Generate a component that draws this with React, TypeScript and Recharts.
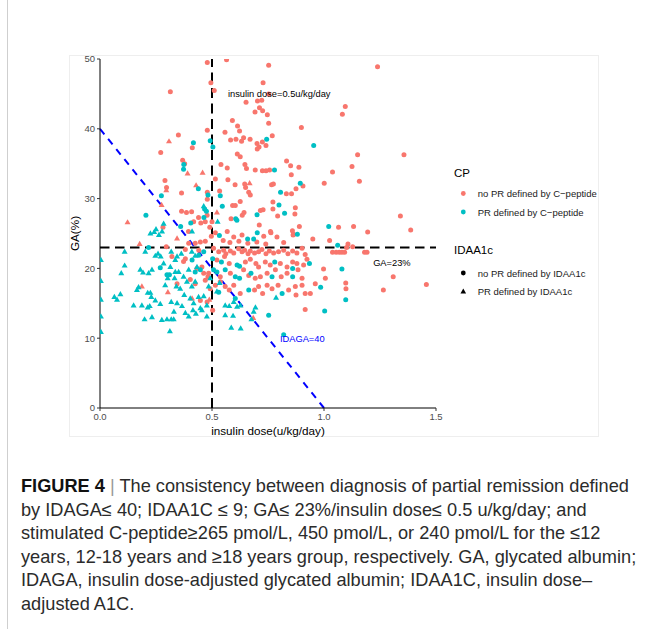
import React from 'react';
import { ScatterChart, Scatter, XAxis, YAxis, ReferenceLine, ReferenceDot } from 'recharts';

type P = [number, number];

const xTicks = [0, 0.5, 1, 1.5];
const yTicks = [0, 10, 20, 30, 40, 50];

const redDots: P[] = [
  [0.479,49.5],[0.565,49.9],[0.753,49.1],[1.239,48.9],
  [0.495,46.6],[0.728,46.6],[0.510,45.5],[0.314,45.3],[0.753,45.0],
  [0.703,44.0],[0.722,44.1],[0.652,43.8],[0.712,43.0],[0.726,42.6],[0.692,42.4],[0.747,42.0],[1.095,43.2],[1.082,42.1],
  [0.591,41.2],[0.753,40.8],[0.899,40.2],[0.614,40.4],
  [0.479,39.8],[0.558,39.5],[0.623,39.7],[0.350,39.1],[0.769,39.0],[0.641,38.7],[0.583,38.4],[0.607,38.5],[0.670,38.5],[0.632,38.2],[0.701,37.9],[0.725,38.1],[0.741,37.6],[0.710,37.4],[0.702,37.1],[0.412,37.3],[0.271,36.6],
  [0.613,36.4],[0.626,36.0],[1.150,36.3],[1.357,36.3],[0.369,35.5],[0.378,35.0],[0.833,35.4],[0.851,34.7],[0.888,34.5],[0.854,33.4],[1.125,34.6],[1.038,33.8],
  [0.540,34.9],[0.568,34.4],[0.647,34.9],[0.654,34.3],[0.693,34.1],[0.725,34.0],[0.741,34.0],[0.757,34.1],
  [0.571,32.7],[0.515,32.8],[0.603,32.0],[0.646,32.1],[0.650,31.6],[0.664,30.9],[0.671,30.5],[0.290,32.6],[0.297,31.6],[1.001,32.2],[1.158,32.5],[0.766,32.0],[0.774,32.1],[0.906,31.8],[0.875,31.4],
  [0.534,31.1],[0.479,30.9],[0.364,30.8],[0.832,30.7],[0.855,30.7],[0.479,29.9],[0.626,29.6],[0.772,29.5],[0.592,29.0],[0.604,29.0],
  [0.364,28.2],[0.409,28.1],[0.386,28.0],[0.478,27.6],[0.772,28.5],[0.728,28.4],[0.716,28.3],[0.872,28.7],[0.870,27.8],[0.643,28.0],[0.635,27.6],[0.793,27.5],[1.341,27.5],[0.440,27.3],[0.585,27.1],
  [0.470,26.7],[0.450,26.5],[0.500,26.7],[0.418,26.7],[0.281,25.9],[0.490,25.9],[0.711,26.2],[0.890,26.0],[1.065,25.9],[1.132,26.0],[1.387,25.5],[1.195,25.2],[0.859,25.4],[0.862,24.8],[0.763,25.1],[0.395,25.3],
  [0.497,24.6],[0.515,25.1],[0.568,25.3],[0.597,24.5],[0.634,24.8],[0.731,24.6],[0.761,25.3],[0.790,24.5],[0.864,24.9],[0.550,24.0],[0.580,23.7],[0.620,23.9],[0.660,23.6],[0.700,23.8],[0.740,23.5],[0.820,23.7],[0.950,24.2],[1.025,24.0],
  [0.381,22.7],[0.396,23.6],[0.425,23.6],[0.448,23.8],[0.470,23.9],[0.441,22.6],[0.296,23.1],[0.321,21.7],[0.373,21.0],[0.381,21.4],[0.433,20.0],[0.455,20.2],[0.463,19.3],[0.470,18.3],[0.482,18.8],[0.403,18.4],[0.425,17.8],[0.344,17.8],[0.448,15.4],[0.478,15.2],[0.503,14.0],
  [0.507,22.9],[0.530,22.4],[0.552,22.6],[0.562,22.1],[0.582,22.5],[0.597,22.2],[0.619,22.8],[0.634,22.4],[0.646,22.6],[0.661,22.1],[0.671,22.5],[0.690,22.2],[0.708,22.4],[0.723,22.7],[0.741,22.1],[0.756,22.5],[0.775,22.2],[0.797,22.4],[0.820,22.6],[0.839,22.1],[0.860,22.5],[0.879,22.2],[0.902,22.9],[0.916,22.0],
  [1.038,22.3],[1.054,22.3],[1.068,22.3],[1.080,22.3],[1.092,22.3],[1.101,23.0],[1.107,23.5],[1.128,23.1],[1.181,22.3],[1.192,22.3],
  [0.522,21.2],[0.556,21.7],[0.577,20.7],[0.649,20.9],[0.671,21.3],[0.696,20.7],[0.708,20.2],[0.738,20.9],[0.760,20.5],[0.805,20.7],[0.835,20.2],[0.860,20.9],[0.879,20.7],[0.909,20.5],[0.924,21.3],
  [0.485,19.3],[0.537,18.8],[0.582,19.3],[0.641,19.8],[0.664,19.0],[0.693,18.6],[0.716,18.8],[0.746,19.3],[0.783,19.8],[0.809,18.8],[0.835,19.3],[0.884,19.8],[0.902,18.6],[0.998,19.9],[1.006,18.6],
  [0.492,17.1],[0.515,17.6],[0.537,18.1],[0.559,17.4],[0.577,16.9],[0.597,17.6],[0.626,16.4],[0.690,16.9],[0.708,17.4],[0.726,16.4],[0.746,17.6],[0.768,17.1],[0.795,17.6],[0.842,16.9],[0.872,17.4],[0.916,16.4],[0.939,16.4],[0.875,16.2],[0.902,17.6],[0.961,17.8],[1.097,17.9],[1.098,17.1],[1.309,18.8],[1.265,16.9],[1.457,17.7],
  [0.916,14.1],
];

const redTriangles: P[] = [
  [0.308,38.2],[0.391,33.6],[0.458,33.7],[0.296,31.2],[0.429,31.9],[0.275,29.1],[0.123,26.6],[0.522,28.0],[0.668,32.2],
  [0.177,23.5],[0.344,24.3],[0.187,17.4],[0.303,16.6],[0.411,15.7],[0.684,12.9],[0.488,15.5],
];

const cyanDots: P[] = [
  [0.492,38.3],[0.417,38.0],[0.504,37.4],[0.744,38.5],[0.954,37.6],[0.374,34.9],[0.373,34.2],[0.779,34.1],[0.439,31.4],[0.482,30.5],[0.274,30.4],[0.537,30.4],
  [0.894,32.2],[0.806,30.9],[0.799,29.1],[0.546,28.9],[0.467,28.5],[0.475,28.2],[0.205,27.6],[0.464,27.3],[0.824,27.9],[0.701,27.7],[0.606,27.1],[0.611,26.9],[0.405,26.5],[0.360,26.0],[1.021,26.0],
  [0.702,25.1],[0.881,24.9],[0.533,24.7],[0.659,24.2],[0.686,24.2],[1.061,23.3],[0.217,23.0],[0.269,20.1],[0.299,19.1],[0.310,19.1],[0.411,21.2],[0.441,21.9],[0.463,22.4],[0.448,19.8],[0.425,19.5],
  [0.503,21.4],[0.542,20.9],[0.612,20.5],[0.623,20.3],[0.780,20.9],[0.860,20.0],[0.935,20.7],[0.522,19.5],[0.559,19.8],[0.604,18.8],[0.623,18.6],[0.674,19.3],[0.768,18.8],[0.860,18.8],[0.507,19.8],
  [0.530,16.6],[0.664,16.9],[0.813,16.4],[0.604,15.7],[0.753,13.3],[1.080,19.9],[0.985,17.3],[1.097,15.5],[1.003,13.9],[0.820,10.5],
];

const cyanTriangles: P[] = [
  [0.004,21.2],[0.004,18.2],[0.004,15.5],[0.004,13.1],[0.004,10.9],
  [0.064,15.9],[0.076,15.5],[0.091,16.3],[0.095,19.3],[0.110,20.4],[0.110,22.4],
  [0.150,14.7],[0.165,16.9],[0.172,17.3],[0.180,19.8],[0.192,19.4],[0.187,14.7],[0.199,12.7],[0.202,22.4],
  [0.213,16.5],[0.225,16.5],[0.213,14.4],[0.222,14.6],[0.217,19.3],[0.232,19.8],[0.229,15.9],[0.232,13.0],[0.247,15.4],[0.247,21.8],[0.259,22.1],[0.271,21.7],
  [0.225,25.0],[0.242,25.2],[0.250,25.6],[0.263,24.8],[0.277,25.3],[0.284,26.4],
  [0.269,14.9],[0.276,12.6],[0.284,20.7],[0.291,17.6],[0.299,12.7],[0.302,18.6],[0.312,11.0],[0.314,20.2],[0.318,12.7],[0.318,22.4],[0.318,15.2],[0.329,12.7],[0.330,13.8],[0.333,18.6],[0.336,21.2],[0.336,19.5],[0.341,17.4],[0.344,21.7],[0.344,15.0],[0.351,19.5],[0.358,17.1],[0.363,22.1],[0.366,14.6],
  [0.373,18.8],[0.376,16.2],[0.381,13.6],[0.388,18.1],[0.396,13.1],[0.396,19.8],[0.403,15.7],[0.410,17.4],[0.410,22.4],[0.411,25.3],[0.415,14.0],[0.418,15.0],[0.425,18.1],[0.425,21.8],[0.428,13.5],[0.433,20.2],[0.440,15.9],[0.448,14.3],[0.455,14.0],[0.463,16.0],[0.463,28.9],[0.477,14.7],[0.477,13.1],[0.485,17.4],[0.492,18.6],[0.522,16.7],[0.534,17.9],[0.525,26.7],
  [0.559,14.7],[0.577,14.6],[0.597,15.2],[0.612,14.5],[0.627,14.7],[0.694,14.4],[0.686,13.8],[0.559,13.3],[0.594,13.2],[0.676,12.7],[0.586,11.5],[0.628,11.4],[0.786,15.8],
];

const captionLines = [
  'by IDAGA≤ 40; IDAA1C ≤ 9; GA≤ 23%/insulin dose≤ 0.5 u/kg/day; and',
  'stimulated C-peptide≥265 pmol/L, 450 pmol/L, or 240 pmol/L for the ≤12',
  'years, 12-18 years and ≥18 years group, respectively. GA, glycated albumin;',
  'IDAGA, insulin dose-adjusted glycated albumin; IDAA1C, insulin dose–',
  'adjusted A1C.',
];

const RED = '#F8766D';
const CYAN = '#00BFC4';
const FONT = '"Liberation Sans", Arial, sans-serif';

const toPts = (arr: P[]) => arr.map(([x, y]) => ({ x, y }));

const dotShape = (color: string) => (props: any) => (
  <circle cx={props.cx} cy={props.cy} r={2.5} fill={color} />
);
const triShape = (color: string) => (props: any) => {
  const { cx, cy } = props;
  return (
    <polygon
      points={`${cx},${cy - 3.2} ${cx - 3},${cy + 2} ${cx + 3},${cy + 2}`}
      fill={color}
    />
  );
};

const LegendBox = () => (
  <svg width={160} height={150} style={{ display: 'block' }}>
    <text x={6} y={13} fontSize={11.5} fill="#000" dominantBaseline="central" fontFamily={FONT}>CP</text>
    <circle cx={15.3} cy={33.5} r={2.4} fill={RED} />
    <text x={29.7} y={33.5} fontSize={9.5} fill="#1a1a1a" dominantBaseline="central" fontFamily={FONT}>no PR defined by C−peptide</text>
    <circle cx={15.3} cy={52} r={2.4} fill={CYAN} />
    <text x={29.7} y={52} fontSize={9.5} fill="#1a1a1a" dominantBaseline="central" fontFamily={FONT}>PR defined by C−peptide</text>
    <text x={6} y={90} fontSize={11.5} fill="#000" dominantBaseline="central" fontFamily={FONT}>IDAA1c</text>
    <circle cx={15.3} cy={113} r={2.4} fill="#000" />
    <text x={29.7} y={113} fontSize={9.5} fill="#1a1a1a" dominantBaseline="central" fontFamily={FONT}>no PR defined by IDAA1c</text>
    <polygon points="15.3,128.6 12.5,133.4 18.1,133.4" fill="#000" />
    <text x={29.7} y={131.7} fontSize={9.5} fill="#1a1a1a" dominantBaseline="central" fontFamily={FONT}>PR defined by IDAA1c</text>
  </svg>
);

export default function App() {
  return (
    <div style={{ position: 'absolute', left: 0, top: 0, width: 652, height: 629, background: '#fff', fontFamily: FONT, overflow: 'hidden' }}>
      <div style={{ position: 'absolute', left: 7, top: 0, width: 1, height: 629, background: '#cfcfcf' }} />
      <div style={{ position: 'absolute', left: 69, top: 55, width: 528, height: 380, border: '1px solid #eeeeee' }} />
      <div style={{ position: 'absolute', left: 0, top: 0 }}>
        <ScatterChart width={652} height={460} margin={{ top: 59, right: 216, bottom: 6, left: 50 }} style={{ fontFamily: FONT }}>
          <XAxis
            type="number"
            dataKey="x"
            domain={[0, 1.5]}
            ticks={xTicks}
            allowDataOverflow
            tickFormatter={(v: number) => v.toFixed(1)}
            height={46}
            tickSize={3}
            stroke="#000"
            axisLine={{ stroke: '#000', strokeWidth: 1 }}
            tickLine={{ stroke: '#333' }}
            tick={{ fill: '#4d4d4d', fontSize: 9.5 }}
            label={{ value: 'insulin dose(u/kg/day)', position: 'center', fill: '#000', fontSize: 11.7 }}
          />
          <YAxis
            type="number"
            dataKey="y"
            domain={[0, 50]}
            ticks={yTicks}
            allowDataOverflow
            width={50}
            tickSize={3}
            stroke="#000"
            axisLine={{ stroke: '#000', strokeWidth: 1 }}
            tickLine={{ stroke: '#333' }}
            tick={{ fill: '#4d4d4d', fontSize: 9.5 }}
            label={{ value: 'GA(%)', position: 'center', angle: -90, fill: '#000', fontSize: 11.7 }}
          />
          <Scatter data={toPts(redDots)} shape={dotShape(RED)} isAnimationActive={false} />
          <Scatter data={toPts(redTriangles)} shape={triShape(RED)} isAnimationActive={false} />
          <Scatter data={toPts(cyanDots)} shape={dotShape(CYAN)} isAnimationActive={false} />
          <Scatter data={toPts(cyanTriangles)} shape={triShape(CYAN)} isAnimationActive={false} />
          <ReferenceLine y={23} stroke="#000" strokeWidth={2} strokeDasharray="9.5 5.5" />
          <ReferenceLine x={0.5} stroke="#000" strokeWidth={2} strokeDasharray="10 5.5" />
          <ReferenceLine
            segment={[{ x: 0, y: 40 }, { x: 1, y: 0 }]}
            stroke="#0000FF"
            strokeWidth={2}
            strokeDasharray="7 6"
          />
          <ReferenceDot x={0.8} y={45} r={0} stroke="none" fill="none"
            label={{ value: 'insulin dose=0.5u/kg/day', position: 'center', fill: '#000', fontSize: 9.3 }} />
          <ReferenceDot x={1.303} y={20.86} r={0} stroke="none" fill="none"
            label={{ value: 'GA=23%', position: 'center', fill: '#000', fontSize: 9.3 }} />
          <ReferenceDot x={0.903} y={10.0} r={0} stroke="none" fill="none"
            label={{ value: 'IDAGA=40', position: 'center', fill: '#0000FF', fontSize: 9.3 }} />
        </ScatterChart>
      </div>
      <div style={{ position: 'absolute', left: 448, top: 160 }}>
        <LegendBox />
      </div>
      <div style={{ position: 'absolute', left: 21, top: 475, fontSize: 18.2, lineHeight: '23.5px', color: '#2b2b2b', whiteSpace: 'nowrap', fontFamily: FONT }}>
        <div><span style={{ fontWeight: 'bold', color: '#111' }}>FIGURE 4</span><span style={{ color: '#999' }}> | </span>The consistency between diagnosis of partial remission defined</div>
        {captionLines.map((l, i) => (<div key={i}>{l}</div>))}
      </div>
    </div>
  );
}
